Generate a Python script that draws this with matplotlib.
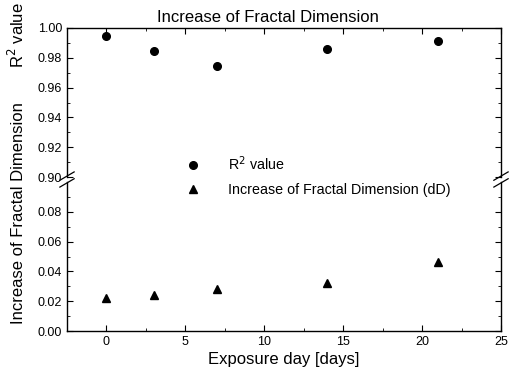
import numpy as np
import matplotlib.pyplot as plt

plt.rcParams['font.family'] = ['Liberation Sans', 'DejaVu Sans']

# data
days = [0, 3, 7, 14, 21]
r2_value = [0.9943, 0.9848, 0.9744, 0.9862, 0.9916]
dD = [0.0222, 0.0240, 0.0285, 0.0325, 0.0460]

fig = plt.figure(figsize=(5.10, 3.79), dpi=100)
# axes positions (figure fraction)
left, right = 67 / 510, 501 / 510
ax_top = fig.add_axes([left, 1 - 177 / 379, right - left, (177 - 28) / 379])
ax_bot = fig.add_axes([left, 1 - 331 / 379, right - left, (331 - 182) / 379])

h1, = ax_top.plot(days, r2_value, 'o', color='black', ms=5.5, label='R$^2$ value')
h2, = ax_bot.plot(days, dD, '^', color='black', ms=6, label='Increase of Fractal Dimension (dD)')

ax_top.set_ylim(0.90, 1.00)
ax_bot.set_ylim(0.0, 0.10)
for ax in (ax_top, ax_bot):
    ax.set_xlim(-2.5, 25)
    ax.set_xticks([0, 5, 10, 15, 20, 25])
    ax.set_xticks(np.arange(-2.5, 25.1, 2.5), minor=True)
    ax.tick_params(which='both', direction='in', top=True, right=True, labelsize=9)
    ax.tick_params(which='major', length=4)
    ax.tick_params(which='minor', length=2.5)
    for s in ax.spines.values():
        s.set_linewidth(1.0)

ax_top.set_yticks([0.90, 0.92, 0.94, 0.96, 0.98, 1.00])
ax_top.set_yticks(np.arange(0.90, 1.001, 0.01), minor=True)
ax_top.set_yticklabels(['0.90', '0.92', '0.94', '0.96', '0.98', '1.00'])
ax_top.spines['bottom'].set_visible(False)
ax_top.tick_params(which='both', bottom=False, labelbottom=False)

ax_bot.set_yticks([0.00, 0.02, 0.04, 0.06, 0.08])
ax_bot.set_yticks(np.arange(0.0, 0.091, 0.01), minor=True)
ax_bot.set_yticklabels(['0.00', '0.02', '0.04', '0.06', '0.08'])
ax_bot.spines['top'].set_visible(False)
ax_bot.tick_params(which='both', top=False)

# break marks
for xpos in (0, 1):
    for dy in (-0.009, 0.009):
        fig.lines.append(plt.Line2D(
            [left + (right - left) * xpos - 0.014, left + (right - left) * xpos + 0.014],
            [1 - 179.5 / 379 + dy - 0.011, 1 - 179.5 / 379 + dy + 0.011],
            transform=fig.transFigure, color='black', lw=0.9))

fig.text(268 / 510, 1 - 18 / 379, 'Increase of Fractal Dimension', ha='center', va='center', fontsize=12)
ax_bot.set_xlabel('Exposure day [days]', fontsize=12, labelpad=3)
fig.text(17 / 510, 1 - 35 / 379, 'R$^2$ value', rotation=90, ha='center', va='center', fontsize=12)
fig.text(19 / 510, 1 - 213 / 379, 'Increase of Fractal Dimension', rotation=90,
         ha='center', va='center', fontsize=12)

fig.legend(handles=[h1, h2], loc='center left', bbox_to_anchor=(166 / 510, 1 - 175.5 / 379),
           frameon=False, fontsize=10.3, handletextpad=1.4, labelspacing=0.7)

fig.savefig('out.png', dpi=100)
